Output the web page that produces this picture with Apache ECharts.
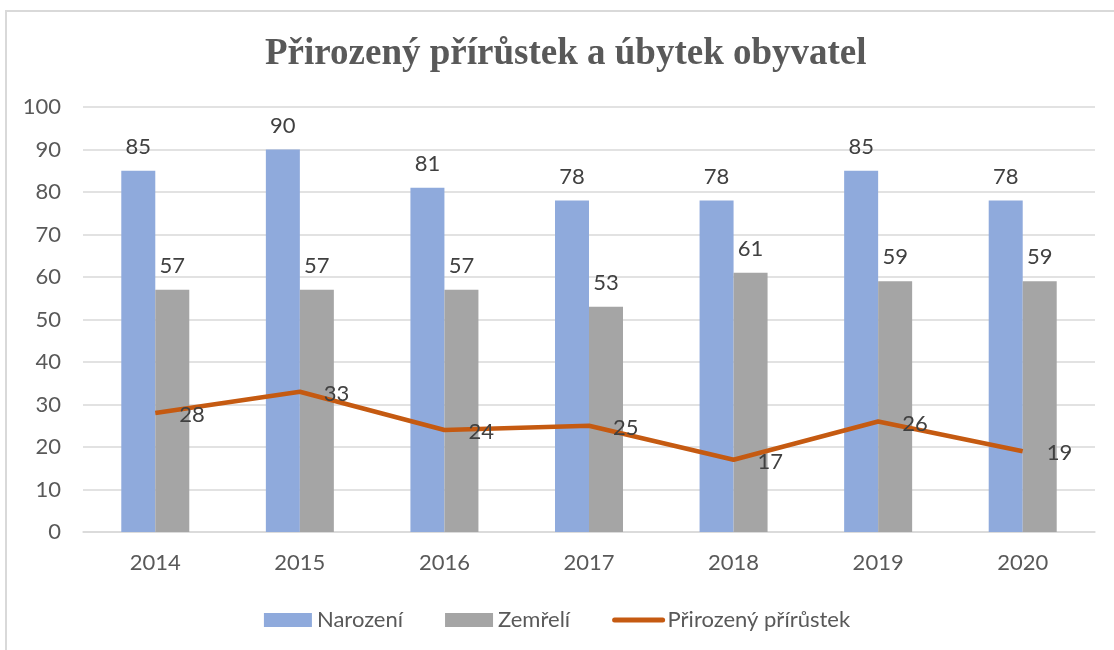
<!DOCTYPE html>
<html>
<head>
<meta charset="utf-8">
<script src="https://cdn.jsdelivr.net/npm/echarts@6/dist/echarts.min.js"></script>
<style>
  html, body { margin: 0; padding: 0; background: #fff; }
  #chart { width: 1114px; height: 650px; }
</style>
</head>
<body>
<div id="chart"></div>
<script>
var years = ['2014', '2015', '2016', '2017', '2018', '2019', '2020']
var narozeni = [85, 90, 81, 78, 78, 85, 78]
var zemreli = [57, 57, 57, 53, 61, 59, 59]
var prirustek = [28, 33, 24, 25, 17, 26, 19]

var textColor = '#595959'
var font = 'Lato, "Open Sans", sans-serif'

var chart = echarts.init(document.getElementById('chart'))

var option = {
  backgroundColor: '#fff',
  animation: false,
  graphic: [
    {
      type: 'rect',
      shape: { x: 6, y: 11, width: 1130, height: 700 },
      style: { fill: 'none', stroke: '#d9d9d9', lineWidth: 2 }
    }
  ],
  title: {
    text: 'Přirozený přírůstek a úbytek obyvatel',
    left: 260,
    top: 31,
    textStyle: {
      fontFamily: '"Liberation Serif", "Times New Roman", serif',
      fontWeight: 'bold',
      fontSize: 37,
      color: textColor
    }
  },
  grid: {
    left: 83,
    right: 19,
    top: 107,
    bottom: 118
  },
  legend: {
    left: 'center',
    top: 604,
    itemWidth: 48,
    itemHeight: 14,
    itemGap: 42,
    textStyle: { fontFamily: font, fontSize: 22, color: textColor },
    data: [
      { name: 'Narození', icon: 'rect' },
      { name: 'Zemřelí', icon: 'rect' },
      {
        name: 'Přirozený přírůstek',
        itemStyle: { opacity: 0 },
        lineStyle: { width: 5, cap: 'round' }
      }
    ]
  },
  xAxis: {
    type: 'category',
    data: years,
    axisTick: { show: false },
    axisLine: { lineStyle: { color: '#d9d9d9', width: 1.5 } },
    axisLabel: { margin: 20, fontFamily: font, fontSize: 22, color: textColor }
  },
  yAxis: {
    type: 'value',
    min: 0,
    max: 100,
    interval: 10,
    axisLine: { show: false },
    axisTick: { show: false },
    splitLine: { lineStyle: { color: '#d9d9d9', width: 1.5 } },
    axisLabel: { margin: 22, fontFamily: font, fontSize: 22, color: textColor }
  },
  series: [
    {
      name: 'Narození',
      type: 'bar',
      barWidth: 34,
      barGap: '0%',
      itemStyle: { color: '#8faadc' },
      label: {
        show: true,
        position: 'top',
        distance: 13,
        fontFamily: font,
        fontSize: 22,
        color: '#404040'
      },
      data: narozeni
    },
    {
      name: 'Zemřelí',
      type: 'bar',
      barWidth: 34,
      barGap: '0%',
      itemStyle: { color: '#a5a5a5' },
      label: {
        show: true,
        position: 'top',
        distance: 13,
        fontFamily: font,
        fontSize: 22,
        color: '#404040'
      },
      data: zemreli
    },
    {
      name: 'Přirozený přírůstek',
      type: 'line',
      symbol: 'circle',
      symbolSize: 0,
      showSymbol: true,
      z: 5,
      lineStyle: { color: '#c55a11', width: 4.5 },
      itemStyle: { color: '#c55a11' },
      label: {
        show: true,
        position: 'right',
        distance: 24,
        offset: [0, 2],
        fontFamily: font,
        fontSize: 22,
        color: '#404040'
      },
      data: prirustek
    }
  ]
}

chart.setOption(option)
</script>
</body>
</html>
